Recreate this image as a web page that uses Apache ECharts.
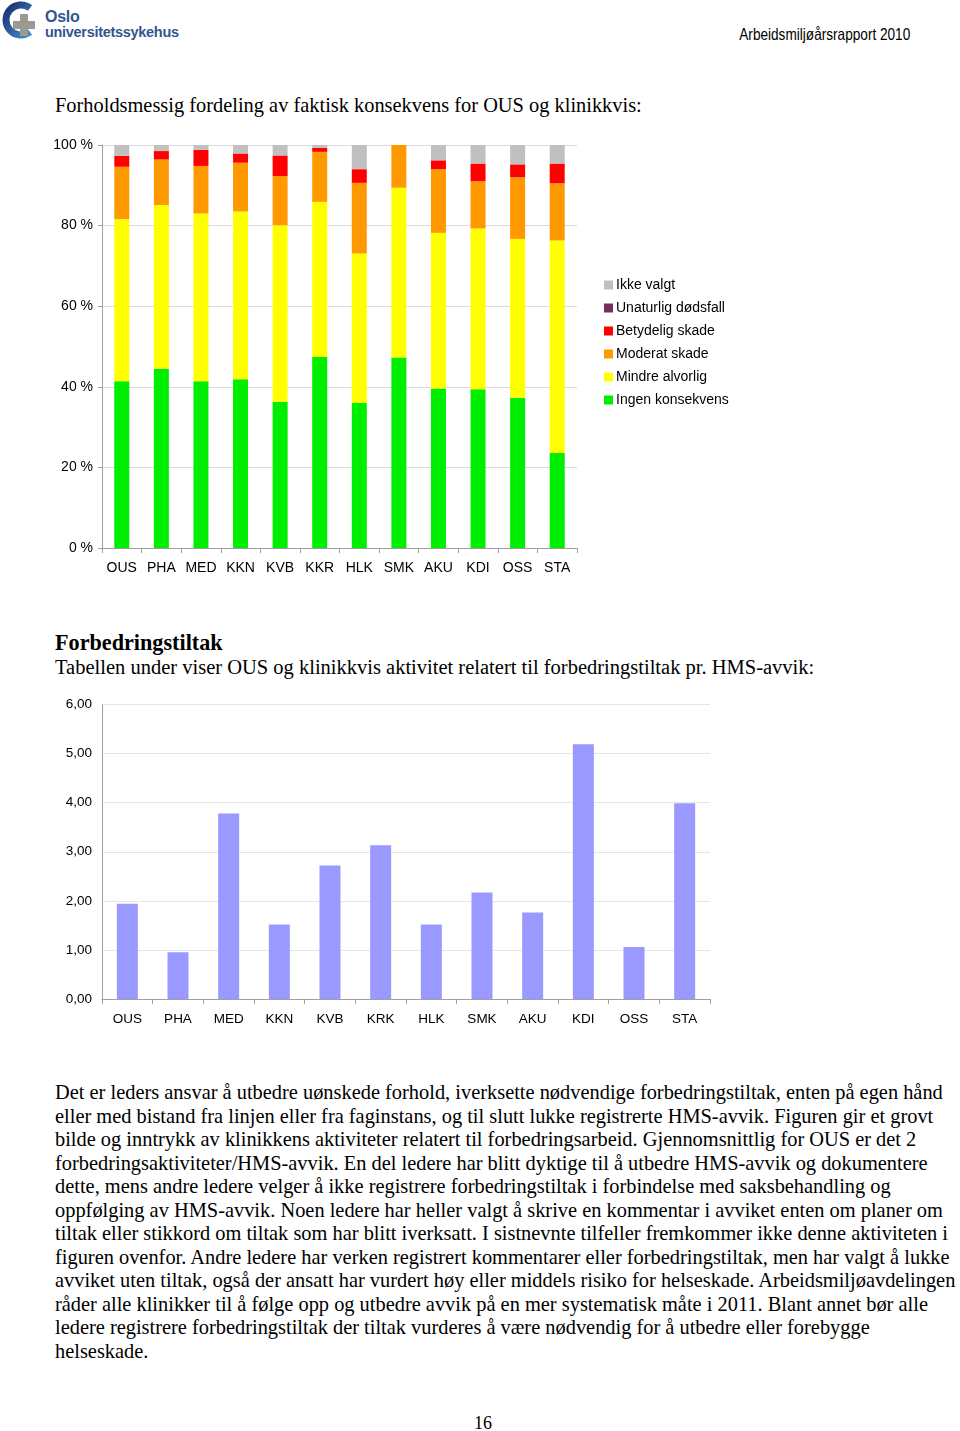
<!DOCTYPE html>
<html>
<head>
<meta charset="utf-8">
<script src="https://cdn.jsdelivr.net/npm/echarts@6/dist/echarts.min.js"></script>
<style>
  html, body { margin: 0; padding: 0; background: #fff; }
  body { width: 960px; height: 1431px; position: relative; overflow: hidden; }
  .serif { font-family: "Liberation Serif", "Times New Roman", serif; color: #000; position: absolute; white-space: nowrap; }
  #hdr { position: absolute; right: 50px; top: 25px; font-family: "Liberation Sans", Arial, sans-serif; font-size: 16.5px; color: #000; transform-origin: right center; white-space: nowrap; }
  #logoTxt { position: absolute; left: 45px; top: 9px; font-family: "Liberation Sans", Arial, sans-serif; color: #34548f; font-weight: bold; font-size: 14.5px; line-height: 15px; letter-spacing: -0.3px; }
  #chart1 { position: absolute; left: 0; top: 130px; width: 960px; height: 460px; }
  #chart2 { position: absolute; left: 0; top: 690px; width: 960px; height: 350px; }
  #para { left: 55px; top: 1081px; font-size: 20.4px; line-height: 23.55px; }
</style>
</head>
<body>
<svg style="position:absolute;left:0;top:0" width="44" height="44" viewBox="0 0 44 44">
  <defs>
    <linearGradient id="g1" x1="0" y1="0" x2="1" y2="1">
      <stop offset="0" stop-color="#1b2f6e"/>
      <stop offset="1" stop-color="#3f8fd0"/>
    </linearGradient>
  </defs>
  <path d="M30 8 A15 15 0 1 0 30 32" fill="none" stroke="url(#g1)" stroke-width="7"/>
  <rect x="20" y="14" width="8" height="22" fill="#9a9a92"/>
  <rect x="13" y="21" width="22" height="8" fill="#9a9a92"/>
</svg>
<div id="logoTxt"><span style="font-size:16px">Oslo</span><br>universitetssykehus</div>
<div id="hdr">Arbeidsmiljøårsrapport 2010</div>

<div class="serif" style="left:55px;top:94px;font-size:20.4px;">Forholdsmessig fordeling av faktisk konsekvens for OUS og klinikkvis:</div>
<div id="chart1"></div>

<div class="serif" style="left:55px;top:630px;font-size:22.2px;font-weight:bold;">Forbedringstiltak</div>
<div class="serif" style="left:55px;top:656px;font-size:20.5px;">Tabellen under viser OUS og klinikkvis aktivitet relatert til forbedringstiltak pr. HMS-avvik:</div>
<div id="chart2"></div>

<div id="para" class="serif">Det er leders ansvar å utbedre uønskede forhold, iverksette nødvendige forbedringstiltak, enten på egen hånd<br>eller med bistand fra linjen eller fra faginstans, og til slutt lukke registrerte HMS-avvik. Figuren gir et grovt<br>bilde og inntrykk av klinikkens aktiviteter relatert til forbedringsarbeid. Gjennomsnittlig for OUS er det 2<br>forbedringsaktiviteter/HMS-avvik. En del ledere har blitt dyktige til å utbedre HMS-avvik og dokumentere<br>dette, mens andre ledere velger å ikke registrere forbedringstiltak i forbindelse med saksbehandling og<br>oppfølging av HMS-avvik. Noen ledere har heller valgt å skrive en kommentar i avviket enten om planer om<br>tiltak eller stikkord om tiltak som har blitt iverksatt. I sistnevnte tilfeller fremkommer ikke denne aktiviteten i<br>figuren ovenfor. Andre ledere har verken registrert kommentarer eller forbedringstiltak, men har valgt å lukke<br>avviket uten tiltak, også der ansatt har vurdert høy eller middels risiko for helseskade. Arbeidsmiljøavdelingen<br>råder alle klinikker til å følge opp og utbedre avvik på en mer systematisk måte i 2011. Blant annet bør alle<br>ledere registrere forbedringstiltak der tiltak vurderes å være nødvendig for å utbedre eller forebygge<br>helseskade.</div>

<div class="serif" style="left:474px;top:1413px;font-size:18px;">16</div>

<script>
// condense header text to the narrow width seen in the reference
(function(){ const h = document.getElementById('hdr'); const w = h.getBoundingClientRect().width; h.style.transform = 'scaleX(' + (171 / w) + ')'; })();

// ---- Chart 1 data (percent of each unit) ----
const units1 = ['OUS','PHA','MED','KKN','KVB','KKR','HLK','SMK','AKU','KDI','OSS','STA'];
const ingenKonsekvens = [41.4, 44.5, 41.4, 41.9, 36.3, 47.4, 36.0, 47.3, 39.6, 39.4, 37.3, 23.6];
const mindreAlvorlig  = [40.2, 40.6, 41.6, 41.6, 43.8, 38.5, 37.1, 42.1, 38.6, 39.9, 39.4, 52.7];
const moderatSkade    = [13.0, 11.3, 11.8, 12.1, 12.2, 12.4, 17.5, 10.6, 15.8, 11.7, 15.3, 14.2];
const betydeligSkade  = [ 2.7,  2.1,  4.0,  2.3,  5.1,  1.0,  3.4,  0.0,  2.2,  4.4,  3.2,  4.9];
const unaturligDod    = [ 0,    0,    0,    0,    0,    0,    0,    0,    0,    0,    0,    0  ];
const ikkeValgt       = [ 2.7,  1.5,  1.2,  2.1,  2.6,  0.7,  6.0,  0.0,  3.8,  4.6,  4.8,  4.6];
const pctTicks = [0, 20, 40, 60, 80, 100];

// ---- Chart 2 data ----
const units2 = ['OUS','PHA','MED','KKN','KVB','KRK','HLK','SMK','AKU','KDI','OSS','STA'];
const tiltakPerAvvik = [1.94, 0.95, 3.78, 1.52, 2.72, 3.13, 1.52, 2.17, 1.76, 5.19, 1.06, 3.99];

const sans = '"Liberation Sans", Arial, sans-serif';

const c1 = echarts.init(document.getElementById('chart1'), null, {renderer: 'canvas'});
const mk = (name, data, color) => ({
  name, type: 'bar', stack: 'a', data, barWidth: 15,
  itemStyle: { color }, emphasis: { disabled: true }
});
c1.setOption({
  animation: false,
  textStyle: { fontFamily: sans },
  grid: { left: 102, top: 15, width: 475, height: 403, containLabel: false },
  legend: {
    orient: 'vertical', left: 599, top: 143,
    itemWidth: 9, itemHeight: 9, itemGap: 9,
    icon: 'rect',
    textStyle: { fontSize: 14, color: '#000', fontFamily: sans, padding: [0, 0, 0, -2] },
    data: ['Ikke valgt', 'Unaturlig dødsfall', 'Betydelig skade', 'Moderat skade', 'Mindre alvorlig', 'Ingen konsekvens'],
    selectedMode: false
  },
  xAxis: {
    type: 'category', data: units1,
    axisLine: { lineStyle: { color: '#a0a0a0' } },
    axisTick: { show: true, interval: 0, length: 5, lineStyle: { color: '#a0a0a0' } },
    axisLabel: { color: '#000', fontSize: 14, margin: 13, interval: 0 }
  },
  yAxis: {
    type: 'value', min: 0, max: 100, interval: 20,
    axisLine: { show: true, lineStyle: { color: '#a0a0a0' } },
    axisTick: { show: true, length: 4, lineStyle: { color: '#a0a0a0' } },
    splitLine: { lineStyle: { color: '#dcdcdc' } },
    axisLabel: { color: '#000', fontSize: 14, margin: 9, formatter: v => pctTicks.includes(v) ? v + ' %' : '' }
  },
  series: [
    mk('Ingen konsekvens', ingenKonsekvens, '#00ee00'),
    mk('Mindre alvorlig', mindreAlvorlig, '#ffff00'),
    mk('Moderat skade', moderatSkade, '#ff9900'),
    mk('Betydelig skade', betydeligSkade, '#ff0000'),
    mk('Unaturlig dødsfall', unaturligDod, '#7a2f5a'),
    mk('Ikke valgt', ikkeValgt, '#c0c0c0')
  ]
});

const c2 = echarts.init(document.getElementById('chart2'), null, {renderer: 'canvas'});
c2.setOption({
  animation: false,
  textStyle: { fontFamily: sans },
  grid: { left: 102, top: 14.5, width: 608, height: 294.5, containLabel: false },
  xAxis: {
    type: 'category', data: units2,
    axisLine: { lineStyle: { color: '#a0a0a0' } },
    axisTick: { show: true, interval: 0, length: 5, lineStyle: { color: '#a0a0a0' } },
    axisLabel: { color: '#000', fontSize: 13.5, margin: 13, interval: 0 }
  },
  yAxis: {
    type: 'value', min: 0, max: 6, interval: 1,
    axisLine: { show: true, lineStyle: { color: '#a0a0a0' } },
    axisTick: { show: false },
    splitLine: { lineStyle: { color: '#e6e6e6' } },
    axisLabel: { color: '#000', fontSize: 13.5, margin: 10, formatter: v => v.toFixed(2).replace('.', ',') }
  },
  series: [{
    type: 'bar', data: tiltakPerAvvik, barWidth: 21,
    itemStyle: { color: '#9999ff' }, emphasis: { disabled: true }
  }]
});
</script>
</body>
</html>
